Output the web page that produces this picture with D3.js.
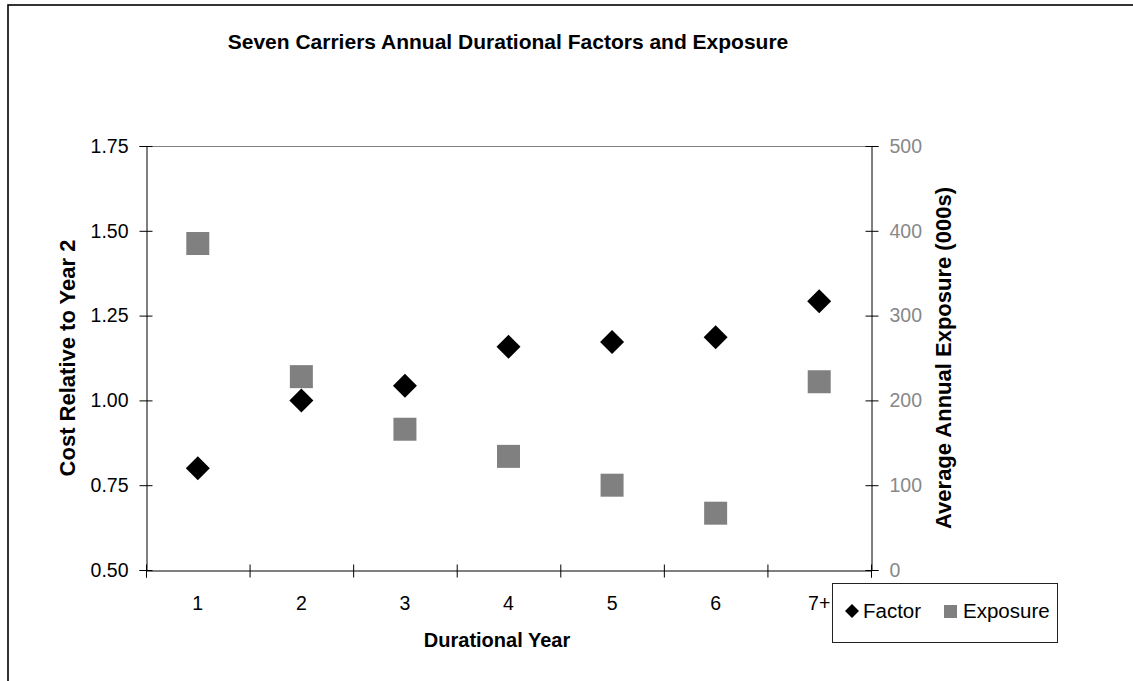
<!DOCTYPE html>
<html>
<head>
  <meta charset="utf-8">
  <title>Seven Carriers Annual Durational Factors and Exposure</title>
  <style>
    body {
      margin: 0;
      background: #fff;
      font-family: "Liberation Sans", Arial, sans-serif;
    }
    svg text {
      font-family: "Liberation Sans", Arial, sans-serif;
    }
  </style>
  <script src="https://d3js.org/d3.v7.min.js"></script>
</head>
<body>
  <svg id="chart" width="1133" height="681"></svg>

  <script>
    var years = ["1", "2", "3", "4", "5", "6", "7+"];
    var factorValues = [0.80, 1.00, 1.043, 1.158, 1.172, 1.186, 1.292];
    var exposureValues = [385, 228, 166, 134, 100, 67, 222];
    var leftTicks = [0.50, 0.75, 1.00, 1.25, 1.50, 1.75];
    var rightTicks = [0, 100, 200, 300, 400, 500];

    var width = 1133,
        height = 681;

    var plot = { left: 146, right: 871, top: 146, bottom: 570 };

    var svg = d3.select("#chart");

    // outer chart frame (runs off the right and bottom edge)
    svg.append("rect")
        .attr("x", 8)
        .attr("y", 5)
        .attr("width", 1300)
        .attr("height", 900)
        .attr("fill", "none")
        .attr("stroke", "#000")
        .attr("stroke-width", 1.6);

    var x = d3.scaleBand()
        .domain(years)
        .range([plot.left, plot.right])
        .padding(0);

    var xEdges = d3.scaleLinear()
        .domain([0, years.length])
        .range([plot.left, plot.right]);

    var yLeft = d3.scaleLinear()
        .domain([0.5, 1.75])
        .range([plot.bottom, plot.top]);

    var yRight = d3.scaleLinear()
        .domain([0, 500])
        .range([plot.bottom, plot.top]);

    // top border of plot area
    svg.append("line")
        .attr("x1", plot.left)
        .attr("x2", plot.right)
        .attr("y1", plot.top + 0.5)
        .attr("y2", plot.top + 0.5)
        .attr("stroke", "#808080")
        .attr("stroke-width", 1);

    // left axis
    var leftAxis = svg.append("g")
        .attr("transform", "translate(" + (plot.left + 0.5) + ",0)")
        .call(d3.axisLeft(yLeft).tickValues(leftTicks).tickFormat(d3.format(".2f")).tickSize(7).tickPadding(11));
    leftAxis.selectAll(".tick line").attr("x1", 6);
    leftAxis.selectAll("text").attr("font-size", "19.5px").attr("fill", "#000");
    leftAxis.selectAll("line, path").attr("stroke", "#000");

    // right axis
    var rightAxis = svg.append("g")
        .attr("transform", "translate(" + (plot.right + 0.5) + ",0)")
        .call(d3.axisRight(yRight).tickValues(rightTicks).tickSize(7).tickPadding(11));
    rightAxis.selectAll(".tick line").attr("x1", -6);
    rightAxis.selectAll("text").attr("font-size", "19.5px").attr("fill", "#888");
    rightAxis.selectAll("line, path").attr("stroke", "#000");

    // bottom axis: tick marks at category edges
    var bottomAxis = svg.append("g")
        .attr("transform", "translate(0," + (plot.bottom + 0.5) + ")")
        .call(d3.axisBottom(xEdges).tickValues(d3.range(years.length + 1)).tickFormat("").tickSize(7));
    bottomAxis.selectAll(".tick line").attr("y1", -6);
    bottomAxis.selectAll("line, path").attr("stroke", "#000");

    // bottom axis labels at category centres
    var bottomLabels = svg.append("g")
        .attr("transform", "translate(0," + plot.bottom + ")")
        .call(d3.axisBottom(x).tickSize(0).tickPadding(26));
    bottomLabels.select(".domain").remove();
    bottomLabels.selectAll("text").attr("font-size", "19.5px").attr("fill", "#000");

    // series
    var points = years.map(function(d, i) {
      return { year: d, factor: factorValues[i], exposure: exposureValues[i] };
    });

    var sq = 23;
    svg.append("g")
        .selectAll("rect")
        .data(points)
        .join("rect")
        .attr("x", d => x(d.year) + x.bandwidth() / 2 - sq / 2)
        .attr("y", d => yRight(d.exposure) - sq / 2)
        .attr("width", sq)
        .attr("height", sq)
        .attr("fill", "#808080");

    var dia = 12;
    svg.append("g")
        .selectAll("path")
        .data(points)
        .join("path")
        .attr("transform", d => "translate(" + (x(d.year) + x.bandwidth() / 2) + "," + yLeft(d.factor) + ")")
        .attr("d", "M0," + (-dia) + "L" + dia + ",0L0," + dia + "L" + (-dia) + ",0Z")
        .attr("fill", "#000");

    // titles
    svg.append("text")
        .attr("x", 508)
        .attr("y", 49)
        .attr("text-anchor", "middle")
        .attr("font-size", "21px")
        .attr("font-weight", "bold")
        .text("Seven Carriers Annual Durational Factors and Exposure");

    svg.append("text")
        .attr("x", 497)
        .attr("y", 647)
        .attr("text-anchor", "middle")
        .attr("font-size", "20px")
        .attr("font-weight", "bold")
        .text("Durational Year");

    svg.append("text")
        .attr("transform", "translate(75," + (plot.top + plot.bottom) / 2 + ") rotate(-90)")
        .attr("text-anchor", "middle")
        .attr("font-size", "22px")
        .attr("font-weight", "bold")
        .text("Cost Relative to Year 2");

    svg.append("text")
        .attr("transform", "translate(951," + (plot.top + plot.bottom) / 2 + ") rotate(-90)")
        .attr("text-anchor", "middle")
        .attr("font-size", "22px")
        .attr("font-weight", "bold")
        .text("Average Annual Exposure (000s)");

    // legend
    var legend = svg.append("g").attr("transform", "translate(832,583)");
    legend.append("rect")
        .attr("x", 0.5)
        .attr("y", 0.5)
        .attr("width", 225)
        .attr("height", 59)
        .attr("fill", "#fff")
        .attr("stroke", "#222");
    legend.append("path")
        .attr("transform", "translate(20,28)")
        .attr("d", "M0,-7L7,0L0,7L-7,0Z")
        .attr("fill", "#000");
    legend.append("text")
        .attr("x", 31)
        .attr("y", 35)
        .attr("font-size", "20.5px")
        .text("Factor");
    legend.append("rect")
        .attr("x", 112)
        .attr("y", 22)
        .attr("width", 13)
        .attr("height", 13)
        .attr("fill", "#808080");
    legend.append("text")
        .attr("x", 131)
        .attr("y", 35)
        .attr("font-size", "20.5px")
        .text("Exposure");
  </script>
</body>
</html>
